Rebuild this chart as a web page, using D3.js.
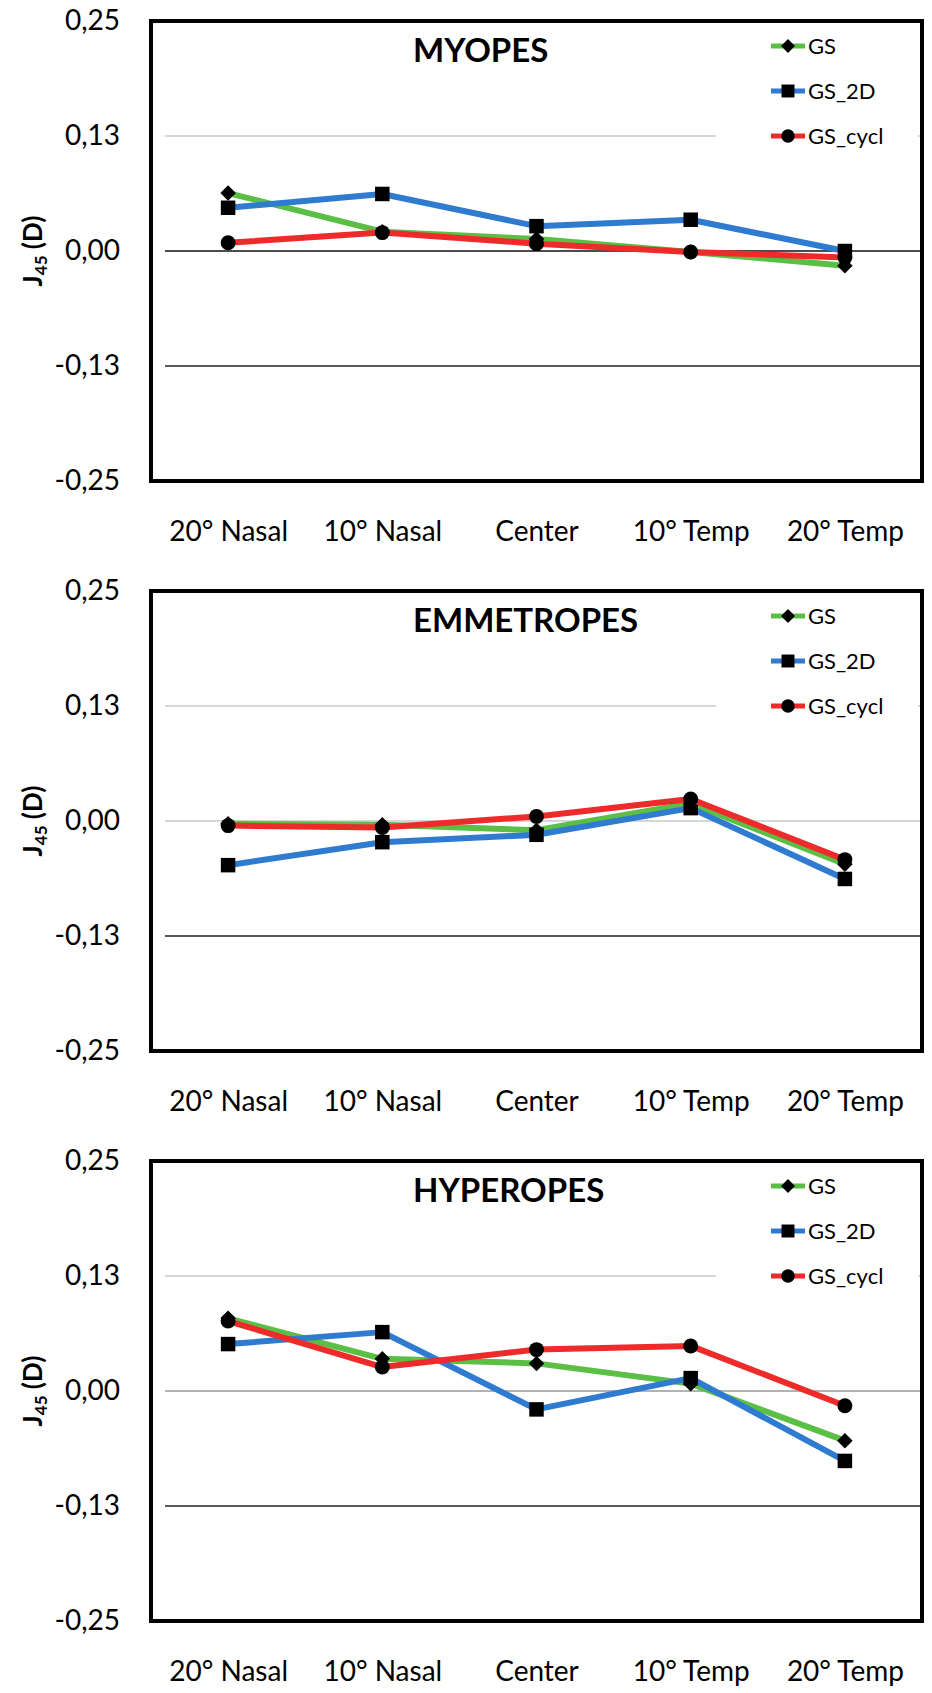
<!DOCTYPE html>
<html>
<head>
<meta charset="utf-8">
<script src="https://cdn.jsdelivr.net/npm/d3@7"></script>
<style>
    body { margin: 0; background: #fff; }
    text { font-family: Lato, "Open Sans", sans-serif; fill: #000; }
</style>
</head>
<body>
<div id="chart"></div>
<script>
"use strict";

var categories = ["20° Nasal", "10° Nasal", "Center", "10° Temp", "20° Temp"];
var seriesNames = ["GS", "GS_2D", "GS_cycl"];
var yTicks = [-0.25, -0.125, 0, 0.125, 0.25];
var yTickLabels = ["-0,25", "-0,13", "0,00", "0,13", "0,25"];
var panelTitles = ["MYOPES", "EMMETROPES", "HYPEROPES"];

// J45 values, one array per series
var myopesGS = [0.063, 0.021, 0.013, -0.001, -0.016];
var myopesGS2D = [0.047, 0.062, 0.027, 0.034, 0.000];
var myopesGScycl = [0.009, 0.020, 0.008, -0.001, -0.007];

var emmetropesGS = [-0.003, -0.004, -0.010, 0.019, -0.047];
var emmetropesGS2D = [-0.048, -0.023, -0.015, 0.014, -0.063];
var emmetropesGScycl = [-0.005, -0.007, 0.005, 0.024, -0.042];

var hyperopesGS = [0.079, 0.035, 0.030, 0.008, -0.054];
var hyperopesGS2D = [0.051, 0.064, -0.020, 0.014, -0.076];
var hyperopesGScycl = [0.076, 0.026, 0.045, 0.049, -0.016];

var panelData = [
    [myopesGS, myopesGS2D, myopesGScycl],
    [emmetropesGS, emmetropesGS2D, emmetropesGScycl],
    [hyperopesGS, hyperopesGS2D, hyperopesGScycl]
];

var LineColors = ["#5cbf45", "#2e7bcf", "#ee2b2b"];
// diamond is a square turned 45 degrees, like the spreadsheet marker
var MarkerShapes = [d3.symbolSquare, d3.symbolSquare, d3.symbolCircle];
var MarkerAngles = [45, 0, 0];
var MarkerSizes = [120, 210, 175];
var ZeroLineColors = ["#111", "#c8c8c8", "#999"];

var width = 932, height = 1693;
var frameLeft = 151, frameRight = 922, plotHeight = 460;
var panelStep = 570, firstTop = 21;

var svg = d3.select("#chart")
    .append("svg")
    .attr("width", width)
    .attr("height", height);

var x = d3.scalePoint()
    .domain(categories)
    .range([frameLeft, frameRight])
    .padding(0.5);

panelData.forEach(function (seriesList, p) {
    drawPanel(p, seriesList);
});

function drawPanel(p, seriesList) {
    var top = firstTop + p * panelStep;
    var bottom = top + plotHeight;
    var g = svg.append("g");

    var y = d3.scaleLinear()
        .domain([-0.25, 0.25])
        .range([bottom, top]);

    // gridlines
    g.selectAll("line.grid")
        .data(yTicks.filter(function (d) { return Math.abs(d) < 0.2; }))
        .enter()
        .append("line")
        .attr("class", "grid")
        .attr("x1", 165)
        .attr("x2", frameRight - 2)
        .attr("y1", function (d) { return y(d); })
        .attr("y2", function (d) { return y(d); })
        .attr("stroke", function (d) {
            if (d > 0) return "#c8c8c8";
            if (d === 0) return ZeroLineColors[p];
            return "#222";
        })
        .attr("stroke-width", 1.5);

    // legend background hides the upper gridline
    g.append("rect")
        .attr("x", 716)
        .attr("y", top + 2)
        .attr("width", 202)
        .attr("height", 135)
        .attr("fill", "#fff");

    // frame
    g.append("rect")
        .attr("x", frameLeft)
        .attr("y", top)
        .attr("width", frameRight - frameLeft)
        .attr("height", plotHeight)
        .attr("fill", "none")
        .attr("stroke", "#000")
        .attr("stroke-width", 4);

    // y axis labels
    var yAxis = d3.axisLeft(y)
        .tickValues(yTicks)
        .tickFormat(function (d, i) { return yTickLabels[i]; })
        .tickSize(0)
        .tickPadding(0);
    var yg = g.append("g")
        .attr("transform", "translate(120,0)")
        .call(yAxis);
    yg.select(".domain").remove();
    yg.selectAll("text")
        .style("font-family", "Lato, sans-serif")
        .style("font-size", "28px")
        .attr("fill", "#000");

    // x axis labels
    var xAxis = d3.axisBottom(x).tickSize(0).tickPadding(40);
    var xg = g.append("g")
        .attr("transform", "translate(0," + bottom + ")")
        .call(xAxis);
    xg.select(".domain").remove();
    xg.selectAll("text")
        .style("font-family", "Lato, sans-serif")
        .style("font-size", "28px")
        .attr("fill", "#000");

    // y axis title
    var yt = g.append("text")
        .attr("transform", "translate(42," + (top + plotHeight / 2) + ") rotate(-90)")
        .attr("text-anchor", "middle")
        .style("font-size", "26px")
        .style("font-weight", "bold");
    yt.append("tspan").text("J");
    yt.append("tspan").text("45").style("font-size", "17px").attr("dy", "5");
    yt.append("tspan").text(" (D)").attr("dy", "-5");

    // panel title
    g.append("text")
        .attr("x", 413)
        .attr("y", top + 41)
        .style("font-size", "33px")
        .style("font-weight", "bold")
        .text(panelTitles[p]);

    // series
    var line = d3.line()
        .x(function (d, i) { return x(categories[i]); })
        .y(function (d) { return y(d); });

    seriesList.forEach(function (values, s) {
        var sg = g.append("g");
        sg.append("path")
            .datum(values)
            .attr("d", line)
            .attr("fill", "none")
            .attr("stroke", LineColors[s])
            .attr("stroke-width", 6)
            .attr("stroke-linejoin", "round");
        sg.selectAll("path.marker")
            .data(values)
            .enter()
            .append("path")
            .attr("class", "marker")
            .attr("d", d3.symbol().type(MarkerShapes[s]).size(MarkerSizes[s]))
            .attr("transform", function (d, i) {
                return "translate(" + x(categories[i]) + "," + y(d) + ") rotate(" + MarkerAngles[s] + ")";
            })
            .attr("fill", "#000");
    });

    // legend
    var lg = g.append("g").attr("transform", "translate(771," + top + ")");
    seriesNames.forEach(function (name, s) {
        var ly = 25 + s * 45;
        lg.append("line")
            .attr("x1", 0).attr("x2", 34)
            .attr("y1", ly).attr("y2", ly)
            .attr("stroke", LineColors[s])
            .attr("stroke-width", 5);
        lg.append("path")
            .attr("d", d3.symbol().type(MarkerShapes[s]).size(MarkerSizes[s] * 0.8))
            .attr("transform", "translate(17," + ly + ") rotate(" + MarkerAngles[s] + ")")
            .attr("fill", "#000");
        lg.append("text")
            .attr("x", 37)
            .attr("y", ly)
            .attr("dy", "0.35em")
            .style("font-size", "22px")
            .text(name);
    });
}
</script>
</body>
</html>
